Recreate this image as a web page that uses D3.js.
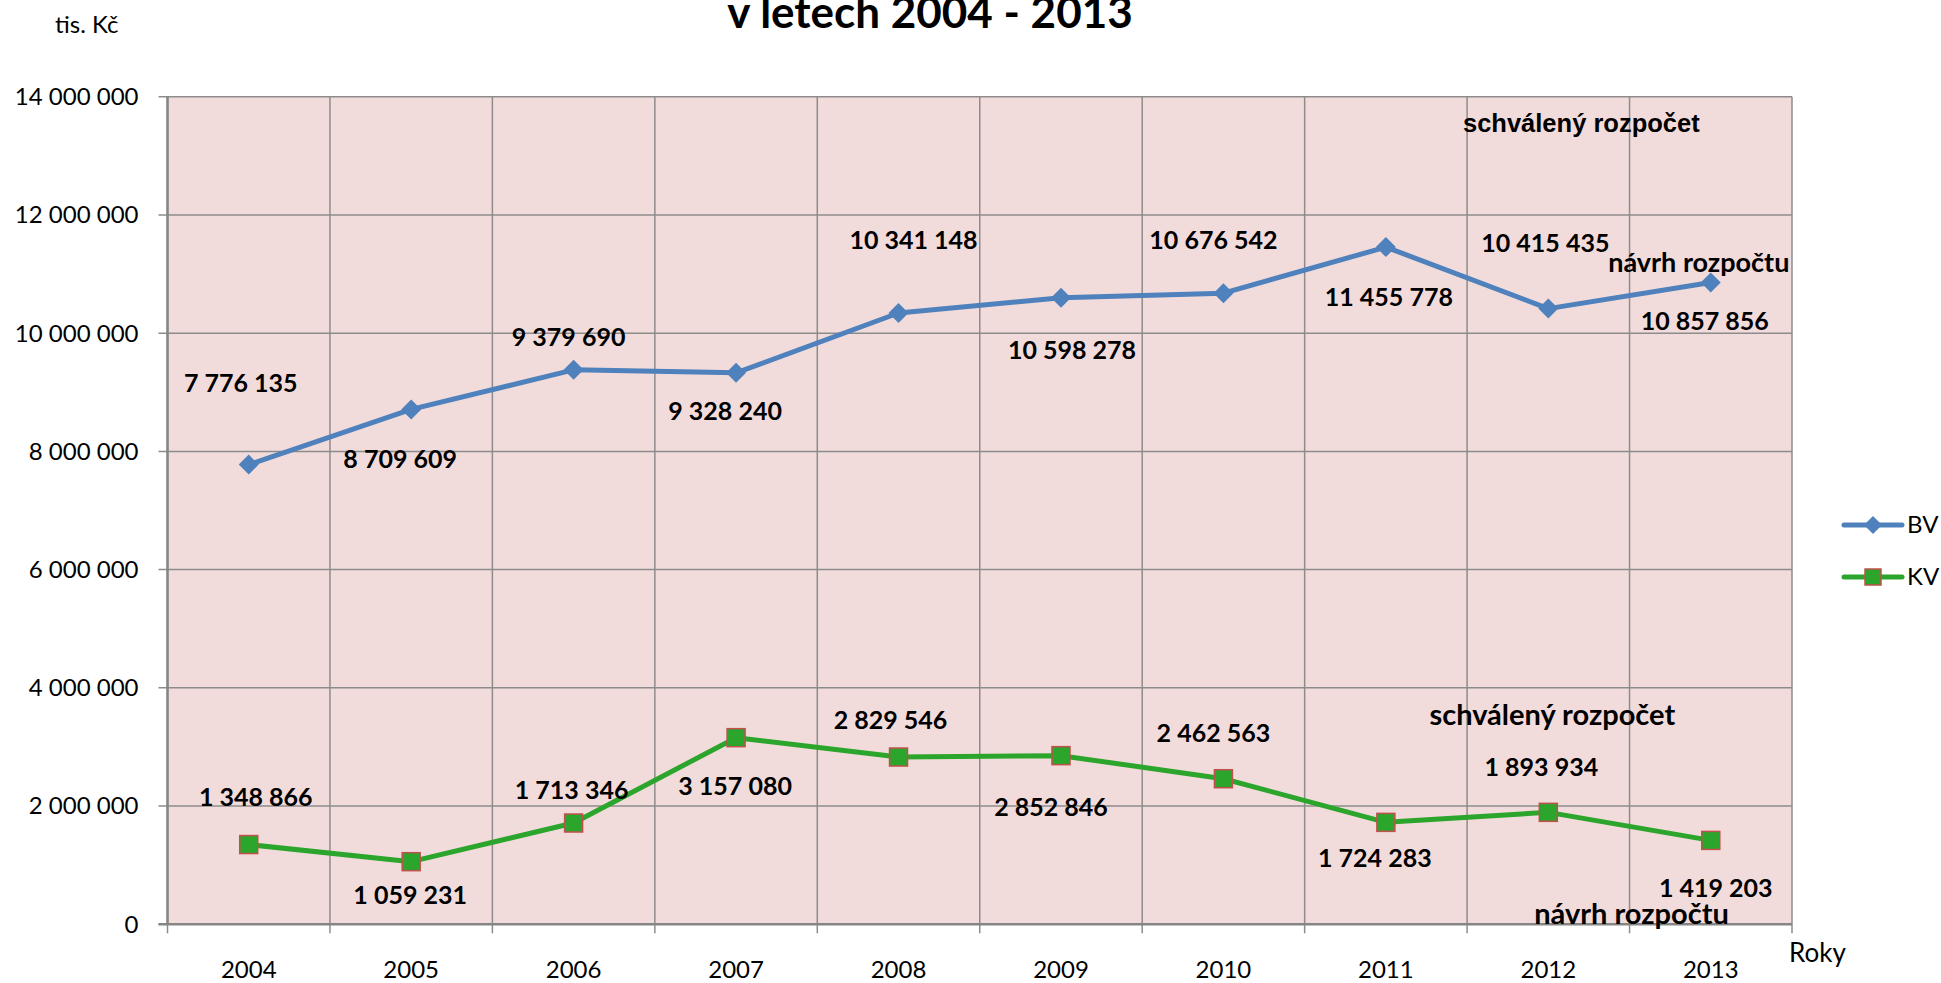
<!DOCTYPE html>
<html>
<head>
<meta charset="utf-8">
<script src="https://cdn.jsdelivr.net/npm/d3@7"></script>
<style>
  body { margin: 0; background: #fff; }
  text { font-family: Lato, "Open Sans", sans-serif; fill: #000; }
</style>
</head>
<body>
<svg id="chart" width="1941" height="983"></svg>
<script>
// data
var years = ['2004','2005','2006','2007','2008','2009','2010','2011','2012','2013'];
var bv = [7776135, 8709609, 9379690, 9328240, 10341148, 10598278, 10676542, 11455778, 10415435, 10857856];
var kv = [1348866, 1059231, 1713346, 3157080, 2829546, 2852846, 2462563, 1724283, 1893934, 1419203];
var yTicks = [0, 2000000, 4000000, 6000000, 8000000, 10000000, 12000000, 14000000];

// label offsets from point (px)
var bvOff = [[-8,-81],[-11,50],[-5,-33],[-11,38],[15,-73],[11,52],[-10,-53],[3,50],[-3,-65],[-6,39]];
var kvOff = [[7,-47],[-1,34],[-2,-33],[-1,49],[-8,-37],[-10,52],[-10,-45],[-11,36],[-7,-45],[5,48]];

var svg = d3.select('#chart');
var margin = {top: 96.7, left: 167.5, right: 1941-1792, bottom: 983-924.3};
var width = 1941 - margin.left - margin.right,
    height = 983 - margin.top - margin.bottom;

var fmt = function(v){ return d3.format(',')(v).replace(/,/g, ' '); };

var x = d3.scaleBand().domain(years).range([0, width]);
var y = d3.scaleLinear().domain([0, 14000000]).range([height, 0]);

var g = svg.append('g').attr('transform', 'translate(' + margin.left + ',' + margin.top + ')');

g.append('rect')
  .attr('width', width).attr('height', height)
  .attr('fill', '#F2DCDB');

// horizontal grid
g.selectAll('.hgrid')
  .data(yTicks)
  .enter().append('line')
    .attr('x1', -9).attr('x2', width)
    .attr('y1', function(d){ return y(d); })
    .attr('y2', function(d){ return y(d); })
    .attr('stroke', '#8c8c8c').attr('stroke-width', 1.5);

// vertical grid
var bounds = d3.range(years.length + 1);
g.selectAll('.vgrid')
  .data(bounds)
  .enter().append('line')
    .attr('x1', function(d){ return d * x.step(); })
    .attr('x2', function(d){ return d * x.step(); })
    .attr('y1', 0).attr('y2', height + 9)
    .attr('stroke', '#8c8c8c').attr('stroke-width', 1.5);

// axis lines
g.append('line').attr('x1', 0).attr('x2', 0).attr('y1', 0).attr('y2', height)
  .attr('stroke', '#868686').attr('stroke-width', 2.5);
g.append('line').attr('x1', -9).attr('x2', width).attr('y1', height).attr('y2', height)
  .attr('stroke', '#868686').attr('stroke-width', 2.5);

// y tick labels
g.selectAll('.ylab')
  .data(yTicks)
  .enter().append('text')
    .attr('x', -29)
    .attr('y', function(d){ return y(d); })
    .attr('dy', '0.35em')
    .attr('text-anchor', 'end')
    .style('font-size', '24px')
    .text(fmt);

// x tick labels
g.selectAll('.xlab')
  .data(years)
  .enter().append('text')
    .attr('x', function(d){ return x(d) + x.bandwidth()/2; })
    .attr('y', height + 54)
    .attr('text-anchor', 'middle')
    .style('font-size', '24px')
    .text(function(d){ return d; });

var px = function(i){ return x(years[i]) + x.bandwidth()/2; };

var line = d3.line()
  .x(function(d, i){ return px(i); })
  .y(function(d){ return y(d); });

g.append('path').datum(bv)
  .attr('fill', 'none').attr('stroke', '#4F81BD').attr('stroke-width', 5)
  .attr('stroke-linejoin', 'round').attr('d', line);

g.append('path').datum(kv)
  .attr('fill', 'none').attr('stroke', '#2CA52C').attr('stroke-width', 5)
  .attr('stroke-linejoin', 'round').attr('d', line);

// markers
g.selectAll('.bvm')
  .data(bv)
  .enter().append('path')
    .attr('transform', function(d, i){ return 'translate(' + px(i) + ',' + y(d) + ')'; })
    .attr('d', 'M0,-10L10,0L0,10L-10,0Z')
    .attr('fill', '#4F81BD');

g.selectAll('.kvm')
  .data(kv)
  .enter().append('rect')
    .attr('x', function(d, i){ return px(i) - 9; })
    .attr('y', function(d){ return y(d) - 9; })
    .attr('width', 18).attr('height', 18)
    .attr('fill', '#2CA52C').attr('stroke', '#C0504D').attr('stroke-width', 1.5);

// data labels
function labels(arr, off){
  g.selectAll(null)
    .data(arr)
    .enter().append('text')
      .attr('x', function(d, i){ return px(i) + off[i][0]; })
      .attr('y', function(d, i){ return y(d) + off[i][1]; })
      .attr('dy', '0.35em')
      .attr('text-anchor', 'middle')
      .style('font-size', '25px')
      .style('font-weight', 'bold')
      .text(fmt);
}
labels(bv, bvOff);
labels(kv, kvOff);

// annotations
g.append('text')
  .attr('x', px(8) + 33).attr('y', y(13555000)).attr('dy', '0.35em')
  .attr('text-anchor', 'middle')
  .style('font-family', '"Liberation Sans", Arial, sans-serif')
  .style('font-size', '25.5px').style('font-weight', 'bold')
  .text('schválený rozpočet');
g.append('text')
  .attr('x', px(9) - 12).attr('y', y(11190000)).attr('dy', '0.35em')
  .attr('text-anchor', 'middle')
  .style('font-size', '27px').style('font-weight', 'bold')
  .text('návrh rozpočtu');
g.append('text')
  .attr('x', px(8) + 4).attr('y', y(3540000)).attr('dy', '0.35em')
  .attr('text-anchor', 'middle')
  .style('font-size', '29px').style('font-weight', 'bold')
  .text('schválený rozpočet');
g.append('text')
  .attr('x', 9 * x.step() + 2).attr('y', y(175000)).attr('dy', '0.35em')
  .attr('text-anchor', 'middle')
  .style('font-size', '29px').style('font-weight', 'bold')
  .text('návrh rozpočtu');

// title, axis titles
svg.append('text')
  .attr('x', 930).attr('y', 28)
  .attr('text-anchor', 'middle')
  .style('font-size', '44px').style('font-weight', 'bold')
  .text('v letech 2004 - 2013');

svg.append('text')
  .attr('x', 55).attr('y', 33)
  .style('font-size', '24px')
  .text('tis. Kč');

svg.append('text')
  .attr('x', 1789).attr('y', 962)
  .style('font-size', '26px')
  .text('Roky');

// legend
var legend = svg.append('g').attr('transform', 'translate(1844,525)');
var items = [{name: 'BV', color: '#4F81BD'}, {name: 'KV', color: '#2CA52C'}];
var li = legend.selectAll('g').data(items).enter().append('g')
  .attr('transform', function(d, i){ return 'translate(0,' + (i * 52) + ')'; });
li.append('line').attr('x1', 0).attr('x2', 58).attr('y1', 0).attr('y2', 0)
  .attr('stroke', function(d){ return d.color; }).attr('stroke-width', 5)
  .attr('stroke-linecap', 'round');
li.filter(function(d){ return d.name == 'BV'; }).append('path')
  .attr('d', 'M29,-9L38,0L29,9L20,0Z').attr('fill', '#4F81BD');
li.filter(function(d){ return d.name == 'KV'; }).append('rect')
  .attr('x', 21).attr('y', -8).attr('width', 16).attr('height', 16)
  .attr('fill', '#2CA52C').attr('stroke', '#C0504D').attr('stroke-width', 1.5);
li.append('text').attr('x', 63).attr('y', 0).attr('dy', '0.35em')
  .style('font-size', '24px')
  .text(function(d){ return d.name; });
</script>
</body>
</html>
